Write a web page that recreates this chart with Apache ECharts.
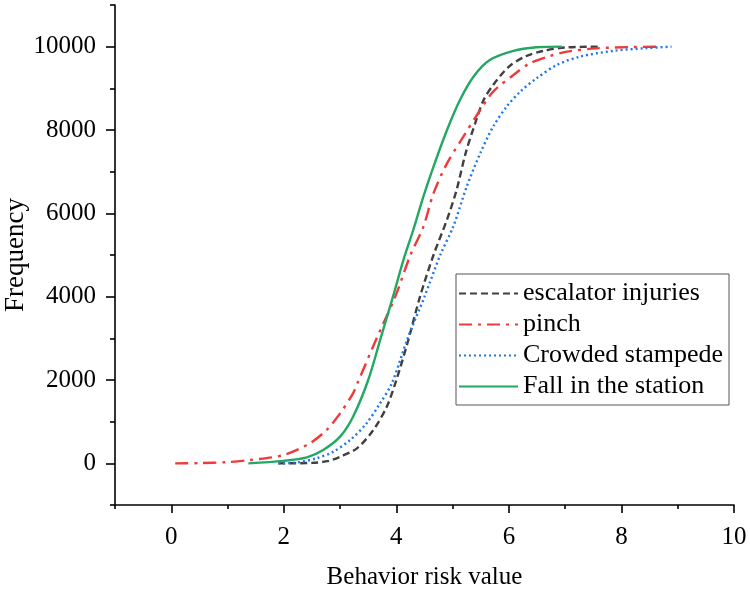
<!DOCTYPE html>
<html>
<head>
<meta charset="utf-8">
<script src="https://cdn.jsdelivr.net/npm/echarts@6/dist/echarts.min.js"></script>
<style>html,body{margin:0;padding:0;background:#fff}#c{width:750px;height:589px}</style>
</head>
<body>
<div id="c"></div>
<script>
var seriesNames = ['escalator injuries', 'pinch', 'Crowded stampede', 'Fall in the station'];
var escalatorX = [1.9, 2.5, 2.8, 3.0, 3.3, 3.59, 3.83, 4.0, 4.2, 4.42, 4.66, 4.9, 5.07, 5.23, 5.4, 5.55, 5.72, 6.0, 6.3, 6.62, 7.0, 7.6];
var escalatorY = [0, 10, 60, 158, 360, 800, 1360, 2000, 2900, 4000, 5000, 5850, 6560, 7440, 8160, 8720, 9080, 9520, 9770, 9900, 9980, 10000];
var pinchX = [0.07, 0.5, 1.0, 1.4, 2.0, 2.46, 2.76, 3.0, 3.23, 3.32, 3.65, 3.98, 4.25, 4.48, 4.66, 4.9, 5.19, 5.49, 5.72, 6.08, 6.37, 6.73, 7.03, 7.56, 8.15, 8.7];
var pinchY = [0, 5, 30, 80, 200, 480, 800, 1200, 1680, 1960, 3000, 4000, 5000, 5680, 6480, 7200, 7840, 8480, 8920, 9320, 9600, 9775, 9880, 9960, 9990, 10000];
var crowdedX = [1.9, 2.23, 2.58, 2.88, 3.18, 3.47, 3.71, 3.92, 4.2, 4.5, 4.78, 5.01, 5.25, 5.49, 5.72, 5.96, 6.2, 6.49, 6.85, 7.26, 7.86, 8.45, 8.89];
var crowdedY = [0, 20, 120, 280, 560, 960, 1440, 1920, 3000, 4000, 5000, 5680, 6640, 7440, 8080, 8560, 8920, 9240, 9560, 9760, 9900, 9965, 10000];
var fallX = [1.37, 1.99, 2.41, 2.7, 3.0, 3.23, 3.5, 3.72, 3.94, 4.13, 4.3, 4.48, 4.66, 4.9, 5.13, 5.37, 5.66, 6.08, 6.49, 6.94];
var fallY = [0, 60, 144, 320, 640, 1118, 2000, 3000, 4000, 4900, 5600, 6400, 7120, 8000, 8720, 9280, 9680, 9900, 9985, 10000];
var xMajorTicks = [0, 2, 4, 6, 8, 10];
var xMinorTicks = [-1, 1, 3, 5, 7, 9];
var yMajorTicks = [0, 2000, 4000, 6000, 8000, 10000];
var yMinorTicks = [-1000, 1000, 3000, 5000, 7000, 9000, 11000];

function pairs(xs, ys) { return xs.map(function (x, i) { return [x, ys[i]]; }); }

var FONT = "'Liberation Serif', 'Times New Roman', serif";
var chart = echarts.init(document.getElementById('c'), null, {renderer: 'canvas'});
var axisLineStyle = {color: '#000', width: 1.6};

chart.setOption({
  animation: false,
  backgroundColor: '#fff',
  textStyle: {fontFamily: FONT},
  grid: {left: 115, right: 16, top: 5, bottom: 84, containLabel: false, outerBoundsMode: 'none'},
  legend: {
    orient: 'vertical',
    left: 456, top: 274,
    padding: [4, 6, 3, 2],
    borderColor: '#555', borderWidth: 1,
    itemWidth: 59, itemHeight: 14, itemGap: 0,
    itemStyle: {opacity: 0},
    textStyle: {fontFamily: FONT, fontSize: 26, color: '#000', lineHeight: 31},
    data: seriesNames
  },
  xAxis: [{
    type: 'value', min: -1, max: 10, position: 'bottom',
    name: 'Behavior risk value', nameLocation: 'middle', nameGap: 60, nameMoveOverlap: false,
    nameTextStyle: {fontFamily: FONT, fontSize: 25, color: '#000'},
    splitLine: {show: false},
    axisLine: {show: true, onZero: false, lineStyle: axisLineStyle},
    axisTick: {show: true, inside: false, length: 8, lineStyle: axisLineStyle, customValues: xMajorTicks},
    axisLabel: {fontFamily: FONT, fontSize: 25, color: '#000', margin: 20, customValues: xMajorTicks,
      formatter: function (v) { return String(v); }}
  }, {
    type: 'value', min: -1, max: 10, position: 'bottom', offset: 0,
    splitLine: {show: false},
    axisLine: {show: false, onZero: false},
    axisTick: {show: true, inside: false, length: 4, lineStyle: axisLineStyle, customValues: xMinorTicks},
    axisLabel: {show: false}
  }],
  yAxis: [{
    type: 'value', min: -1000, max: 11000, position: 'left',
    name: 'Frequency', nameLocation: 'middle', nameGap: 86, nameMoveOverlap: false,
    nameTextStyle: {fontFamily: FONT, fontSize: 27, color: '#000'},
    splitLine: {show: false},
    axisLine: {show: true, onZero: false, lineStyle: axisLineStyle},
    axisTick: {show: true, inside: false, length: 9, lineStyle: axisLineStyle, customValues: yMajorTicks},
    axisLabel: {fontFamily: FONT, fontSize: 25, color: '#000', margin: 19, customValues: yMajorTicks,
      formatter: function (v) { return String(v); }}
  }, {
    type: 'value', min: -1000, max: 11000, position: 'left', offset: 0,
    splitLine: {show: false},
    axisLine: {show: false, onZero: false},
    axisTick: {show: true, inside: false, length: 5, lineStyle: axisLineStyle, customValues: yMinorTicks},
    axisLabel: {show: false}
  }],
  series: [{
    name: seriesNames[0], type: 'line', xAxisIndex: 0, yAxisIndex: 0,
    data: pairs(escalatorX, escalatorY), smooth: 0.3, symbol: 'none',
    lineStyle: {color: '#404040', width: 2.4, type: [7, 4]},
    itemStyle: {color: '#404040'}
  }, {
    name: seriesNames[1], type: 'line', xAxisIndex: 0, yAxisIndex: 0,
    data: pairs(pinchX, pinchY), smooth: 0.3, symbol: 'none',
    lineStyle: {color: '#f03a3a', width: 2.4, type: [13, 6, 3, 6]},
    itemStyle: {color: '#f03a3a'}
  }, {
    name: seriesNames[2], type: 'line', xAxisIndex: 0, yAxisIndex: 0,
    data: pairs(crowdedX, crowdedY), smooth: 0.3, symbol: 'none',
    lineStyle: {color: '#1f78e6', width: 2.4, type: [2, 3]},
    itemStyle: {color: '#1f78e6'}
  }, {
    name: seriesNames[3], type: 'line', xAxisIndex: 0, yAxisIndex: 0,
    data: pairs(fallX, fallY), smooth: 0.3, symbol: 'none',
    lineStyle: {color: '#22a862', width: 2.4, type: 'solid'},
    itemStyle: {color: '#22a862'}
  }]
});
</script>
</body>
</html>
